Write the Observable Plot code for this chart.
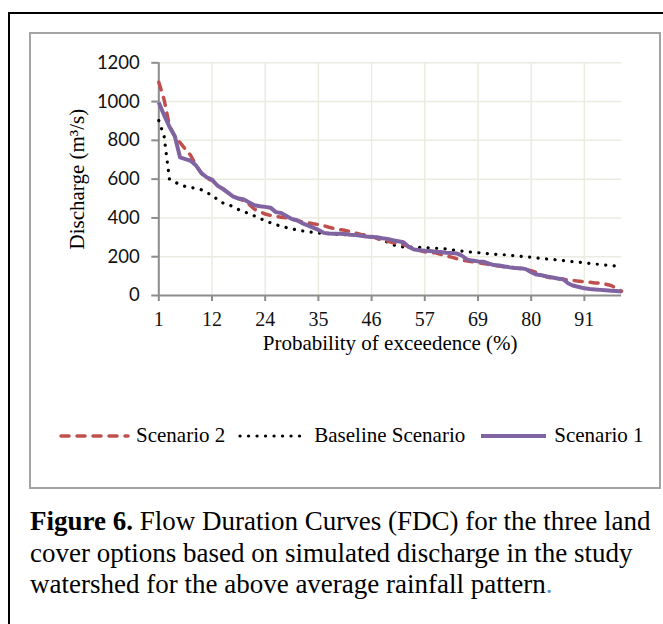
<!DOCTYPE html>
<html><head><meta charset="utf-8">
<script src="https://cdn.jsdelivr.net/npm/d3@7"></script>
<script src="https://cdn.jsdelivr.net/npm/@observablehq/plot@0.6"></script>
<style>
html,body{margin:0;padding:0;background:#fff;}
#page{position:relative;width:663px;height:624px;overflow:hidden;background:#fff;}
#outer{position:absolute;left:8px;top:12px;width:720px;height:700px;border:2px solid #000;box-sizing:border-box;}
#box{position:absolute;left:29px;top:32px;width:632px;height:457px;border:2px solid #a3a3a3;box-sizing:border-box;}
#chart{position:absolute;left:0;top:0;}
#legend{position:absolute;left:59px;top:423px;display:flex;align-items:center;font-family:"Liberation Serif",serif;font-size:21px;white-space:nowrap;color:#000;}
#legend svg{display:block;}
#caption{position:absolute;left:30px;top:506px;font-family:"Liberation Serif",serif;font-size:27px;line-height:31.5px;color:#000;white-space:nowrap;}
</style></head>
<body>
<div id="page">
  <div id="outer"></div>
  <div id="box"></div>
  <div id="chart"></div>
  <div id="legend"></div>
  <div id="caption"><b>Figure 6.</b> Flow Duration Curves (FDC) for the three land<br>cover options based on simulated discharge in the study<br>watershed for the above average rainfall pattern<span style="color:#5b8fd0">.</span></div>
</div>
<script>
// Category index (1..88) of the exceedance-probability axis
const categories = d3.range(1, 89);
const xTickIndex = [1, 11, 21, 31, 41, 51, 61, 71, 81];
const xTickLabels = ["1", "12", "24", "35", "46", "57", "69", "80", "91"];
const yTicks = [0, 200, 400, 600, 800, 1000, 1200];

const seriesNames = ["Scenario 2", "Baseline Scenario", "Scenario 1"];

const scenario2 = [1100,1010,875,820,788,755,722,670,630,605,
  593,570,552,530,512,500,488,470,445,432,
  420,413,408,404,400,393,387,380,375,370,
  366,360,352,345,340,336,330,322,315,312,
  305,295,285,280,273,267,262,252,240,232,
  225,222,220,212,205,198,190,183,178,174,
  170,165,160,155,152,148,146,142,138,133,
  128,118,105,95,90,87,84,80,77,74,
  71,68,65,63,58,52,38,22];

const baseline = [902,820,600,585,572,562,557,553,545,530,
  518,495,478,468,459,443,432,422,410,398,
  385,375,365,358,350,344,338,333,329,326,
  322,320,318,316,315,314,313,312,310,307,
  303,295,285,275,262,253,250,249,249,248,
  247,245,244,243,240,236,232,229,226,223,
  221,218,215,213,211,210,207,205,202,200,
  197,194,191,188,186,183,180,177,174,172,
  168,165,162,160,157,155,152,150];

const scenario1 = [995,930,870,822,712,703,695,670,632,610,
  598,567,550,530,510,500,495,480,465,460,
  457,453,430,425,410,395,388,372,362,350,
  338,323,320,319,318,317,313,312,308,304,
  302,300,295,292,285,280,275,250,237,234,
  231,229,226,224,221,219,217,205,185,180,
  176,174,165,157,155,150,145,142,140,136,
  120,108,104,98,93,88,84,62,50,44,
  37,33,31,29,27,25,23,21];

const styles = {
  "Scenario 2": {stroke: "#c0504d", strokeWidth: 3.5, strokeDasharray: "8 8", strokeLinecap: "round"},
  "Baseline Scenario": {stroke: "#000", strokeWidth: 3.2, strokeDasharray: "0.1 8.4", strokeLinecap: "round"},
  "Scenario 1": {stroke: "#8064a2", strokeWidth: 4, strokeLinecap: "butt"}
};

const rows = (vals) => categories.map((c, i) => ({x: c, y: vals[i]}));
const tickLabelMap = new Map(xTickIndex.map((d, i) => [d, xTickLabels[i]]));

const axisColor = "#8c8c8c";
const gridColor = "#ebebe0";

const chart = Plot.plot({
  width: 663,
  height: 360,
  marginLeft: 158.3,
  marginRight: 41.9,
  marginTop: 62.3,
  marginBottom: 65,
  style: {background: "transparent", overflow: "visible"},
  x: {type: "linear", domain: [1, 88]},
  y: {domain: [0, 1200]},
  marks: [
    Plot.gridY(yTicks.slice(1), {stroke: gridColor, strokeOpacity: 1, strokeWidth: 1.5}),
    Plot.gridX(xTickIndex.slice(1), {stroke: gridColor, strokeOpacity: 1, strokeWidth: 1.5}),
    Plot.ruleX([1], {stroke: axisColor, strokeWidth: 2}),
    Plot.ruleY([0], {stroke: axisColor, strokeWidth: 2}),
    Plot.axisY(yTicks, {tickSize: 7, tickPadding: 12, stroke: axisColor, strokeWidth: 2, fill: "#111",
      fontFamily: "Lato", fontSize: 18.5, tickFormat: d => String(d), label: null}),
    Plot.axisX(xTickIndex, {tickSize: 6, tickPadding: 10, stroke: axisColor, strokeWidth: 2, fill: "#111",
      fontFamily: "Liberation Serif", fontSize: 20, tickFormat: d => tickLabelMap.get(d), label: null}),
    Plot.lineY(rows(baseline), {x: "x", y: "y", ...styles["Baseline Scenario"]}),
    Plot.lineY(rows(scenario2), {x: "x", y: "y", ...styles["Scenario 2"]}),
    Plot.lineY(rows(scenario1), {x: "x", y: "y", ...styles["Scenario 1"]}),
    Plot.text(["Discharge (m³/s)"], {text: d => d, frameAnchor: "left", dx: -81.6, rotate: -90,
      textAnchor: "middle", lineAnchor: "middle", fontFamily: "Liberation Serif", fontSize: 21, fill: "#000"}),
    Plot.text(["Probability of exceedence (%)"], {text: d => d, frameAnchor: "bottom", dy: 47.7,
      textAnchor: "middle", lineAnchor: "middle", fontFamily: "Liberation Serif", fontSize: 21, fill: "#000"})
  ]
});
document.getElementById("chart").appendChild(chart);

// Legend
const legend = document.getElementById("legend");
const swatchW = {"Scenario 2": 71, "Baseline Scenario": 70, "Scenario 1": 69};
const gaps = {"Scenario 2": 13, "Baseline Scenario": 14, "Scenario 1": 0};
seriesNames.forEach(name => {
  const s = styles[name];
  const w = swatchW[name];
  const svg = d3.create("svg").attr("width", w).attr("height", 10);
  svg.append("line").attr("x1", 2).attr("x2", w - 2).attr("y1", 5).attr("y2", 5)
    .attr("stroke", s.stroke).attr("stroke-width", s.strokeWidth)
    .attr("stroke-dasharray", s.strokeDasharray || null)
    .attr("stroke-linecap", s.strokeLinecap);
  legend.appendChild(svg.node());
  const span = document.createElement("span");
  span.textContent = name;
  span.style.marginLeft = "6px";
  span.style.marginRight = gaps[name] + "px";
  legend.appendChild(span);
});
</script>
</body></html>
